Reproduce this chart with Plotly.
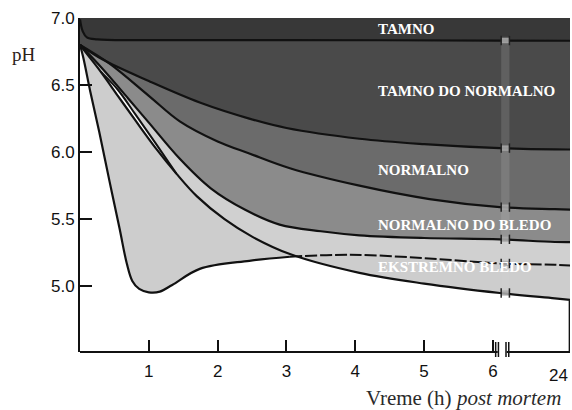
import plotly.graph_objects as go

# ---- data (hours post mortem, pH) ----
hours_top = [0, 7.3]
ph_top = [7.0, 7.0]

hours_T = [0, 0.04, 0.1, 0.25, 1.0, 3.0, 6.1, 7.3]
ph_T = [6.99, 6.9, 6.855, 6.84, 6.835, 6.835, 6.832, 6.83]

hours_A = [0, 0.33, 1.0, 1.74, 2.46, 3.0, 4.06, 5.0, 6.1, 6.9, 7.3]
ph_A = [6.8, 6.69, 6.53, 6.37, 6.25, 6.18, 6.10, 6.06, 6.03, 6.02, 6.02]

hours_B = [0, 0.43, 1.0, 1.45, 2.0, 2.46, 3.05, 4.06, 5.08, 6.1, 6.9, 7.3]
ph_B = [6.8, 6.66, 6.42, 6.23, 6.08, 5.99, 5.88, 5.75, 5.65, 5.59, 5.575, 5.57]

hours_C = [0, 0.33, 0.7, 1.0, 1.45, 1.9, 2.4, 2.9, 3.5, 4.06, 5.0, 6.1, 6.9, 7.3]
ph_C = [6.8, 6.62, 6.4, 6.22, 5.95, 5.73, 5.57, 5.46, 5.41, 5.38, 5.36, 5.35, 5.33, 5.33]

hours_E2 = [0, 0.12, 0.3, 0.55, 0.8, 1.1, 1.4, 1.7, 2.1, 2.5, 3.05, 4.06, 5.0, 6.1, 6.9, 7.3]
ph_E2 = [6.8, 6.72, 6.6, 6.42, 6.24, 6.03, 5.84, 5.67, 5.5, 5.37, 5.24, 5.10, 5.02, 4.95, 4.91, 4.89]

hours_E1 = [0, 0.05, 0.15, 0.28, 0.43, 0.575, 0.68, 0.76, 0.86, 1.0, 1.16, 1.34, 1.74,
            2.46, 3.05, 3.92, 5.0, 6.1, 6.9, 7.3]
ph_E1 = [6.8, 6.7, 6.45, 6.15, 5.78, 5.43, 5.17, 5.04, 4.98, 4.955, 4.96, 5.01, 5.13,
         5.19, 5.22, 5.235, 5.21, 5.17, 5.16, 5.15]

# white double-line gap beside the pale curve
stripe_hours = [0.3, 0.55, 0.8, 1.1, 1.4]
stripe_low = [6.6, 6.42, 6.24, 6.03, 5.84]
stripe_high = [6.6, 6.465, 6.285, 6.065, 5.84]

band_labels = ["TAMNO", "TAMNO DO NORMALNO", "NORMALNO", "NORMALNO DO BLEDO", "EKSTREMNO BLEDO"]
band_label_ph = [6.918, 6.455, 5.866, 5.455, 5.142]

x_tickvals = [1, 2, 3, 4, 5, 6]
x_ticktext = ["1", "2", "3", "4", "5", "6"]
y_tickvals = [5.0, 5.5, 6.0, 6.5, 7.0]

BREAK_H = 6.1

fig = go.Figure()

def fill_trace(x, y, color, fill):
    fig.add_trace(go.Scatter(x=x, y=y, mode="lines", line=dict(width=0, shape="spline"),
                             fill=fill, fillcolor=color, hoverinfo="skip", showlegend=False))

fill_trace(hours_top, ph_top, None, None)
fill_trace(hours_T, ph_T, "#383838", "tonexty")
fill_trace(hours_A, ph_A, "#4a4a4a", "tonexty")
fill_trace(hours_B, ph_B, "#6b6b6b", "tonexty")
fill_trace(hours_C, ph_C, "#8b8b8b", "tonexty")
fill_trace(hours_E2, ph_E2, "#d0d0d0", "tonexty")
fill_trace(hours_E1, ph_E1, "#cdcdcd", "tonexty")
fill_trace(stripe_hours, stripe_low, None, None)
fill_trace(stripe_hours, stripe_high, "#ffffff", "tonexty")

def line_trace(x, y, dash="solid", width=2.2):
    fig.add_trace(go.Scatter(x=x, y=y, mode="lines",
                             line=dict(color="#111111", width=width, shape="spline", dash=dash),
                             hoverinfo="skip", showlegend=False))

line_trace(hours_T, ph_T)
line_trace(hours_A, ph_A)
line_trace(hours_B, ph_B)
line_trace(hours_C, ph_C)
line_trace(hours_E2, ph_E2)
line_trace(stripe_hours, stripe_high, width=2)
k = hours_E1.index(3.05)
line_trace(hours_E1[:k + 1], ph_E1[:k + 1])
line_trace(hours_E1[k:], ph_E1[k:], dash="12px,3px", width=2)

shapes = []
# break stripe through the bands
shapes.append(dict(type="rect", xref="x", yref="y", x0=6.12, x1=6.24, y0=4.93, y1=6.86,
                   fillcolor="rgba(210,210,210,0.16)", line=dict(width=0), layer="above"))
for hx, py in [(hours_T, ph_T), (hours_A, ph_A), (hours_B, ph_B), (hours_C, ph_C),
               (hours_E1, ph_E1), (hours_E2, ph_E2)]:
    v = py[hx.index(BREAK_H)]
    shapes.append(dict(type="rect", xref="x", yref="y", x0=6.125, x1=6.235, y0=v - 0.02, y1=v + 0.02,
                       fillcolor="rgba(170,170,170,0.85)", line=dict(width=0), layer="above"))
    for bx in (6.12, 6.24):
        shapes.append(dict(type="line", xref="x", yref="y", x0=bx, x1=bx, y0=v - 0.035, y1=v + 0.035,
                           line=dict(color="#222222", width=1.5), layer="above"))
# bottom axis line with break
shapes.append(dict(type="line", xref="x", yref="paper", x0=0, x1=6.07, y0=0, y1=0,
                   line=dict(color="#111111", width=2), layer="above"))
shapes.append(dict(type="line", xref="x", yref="paper", x0=6.2, x1=7.12, y0=0, y1=0,
                   line=dict(color="#111111", width=2), layer="above"))
for bx in (6.04, 6.08, 6.19, 6.23):
    shapes.append(dict(type="line", xref="x", yref="paper", x0=bx, x1=bx, y0=-0.015, y1=0.03,
                       line=dict(color="#111111", width=1.5), layer="above"))
# right frame line in white area
shapes.append(dict(type="line", xref="x", yref="y", x0=7.115, x1=7.115, y0=4.51, y1=ph_E2[-1],
                   line=dict(color="#111111", width=2), layer="above"))

annotations = []
for txt, py in zip(band_labels, band_label_ph):
    annotations.append(dict(x=4.3, y=py, xref="x", yref="y", text="<b>" + txt + "</b>",
                            showarrow=False, xanchor="left", yanchor="middle",
                            font=dict(family="Liberation Serif", size=15, color="#ffffff")))
annotations.append(dict(x=6.95, y=0, xref="x", yref="paper", text="24", showarrow=False,
                        xanchor="center", yanchor="top", yshift=-12,
                        font=dict(family="Liberation Sans", size=17, color="#111111")))
annotations.append(dict(x=-0.114, y=0.892, xref="paper", yref="paper", text="pH", showarrow=False,
                        xanchor="center", yanchor="middle",
                        font=dict(family="Liberation Serif", size=19, color="#2b2118")))
annotations.append(dict(x=0.986, y=-0.138, xref="paper", yref="paper",
                        text="Vreme (h) <i>post mortem</i>", showarrow=False,
                        xanchor="right", yanchor="middle",
                        font=dict(family="Liberation Serif", size=21, color="#2a2a2a")))

fig.update_layout(
    width=572, height=410,
    margin=dict(l=80, r=2, t=18, b=58),
    plot_bgcolor="#ffffff", paper_bgcolor="#ffffff",
    shapes=shapes, annotations=annotations,
    xaxis=dict(range=[0, 7.12], showgrid=False, zeroline=False, showline=False, automargin=False,
               tickvals=x_tickvals, ticktext=x_ticktext, ticks="inside", ticklen=12,
               tickwidth=2, tickcolor="#111111", ticklabelstandoff=7,
               tickfont=dict(family="Liberation Sans", size=17, color="#111111")),
    yaxis=dict(range=[4.51, 7.0], showgrid=False, zeroline=False, showline=True, automargin=False,
               linecolor="#111111", linewidth=2, tickvals=y_tickvals, tickformat=".1f",
               ticks="inside", ticklen=12, tickwidth=2, tickcolor="#111111",
               tickfont=dict(family="Liberation Sans", size=17, color="#111111")),
)

fig.write_html("out.html", config={"displayModeBar": False},
               post_script="document.body.style.margin='0px';")
